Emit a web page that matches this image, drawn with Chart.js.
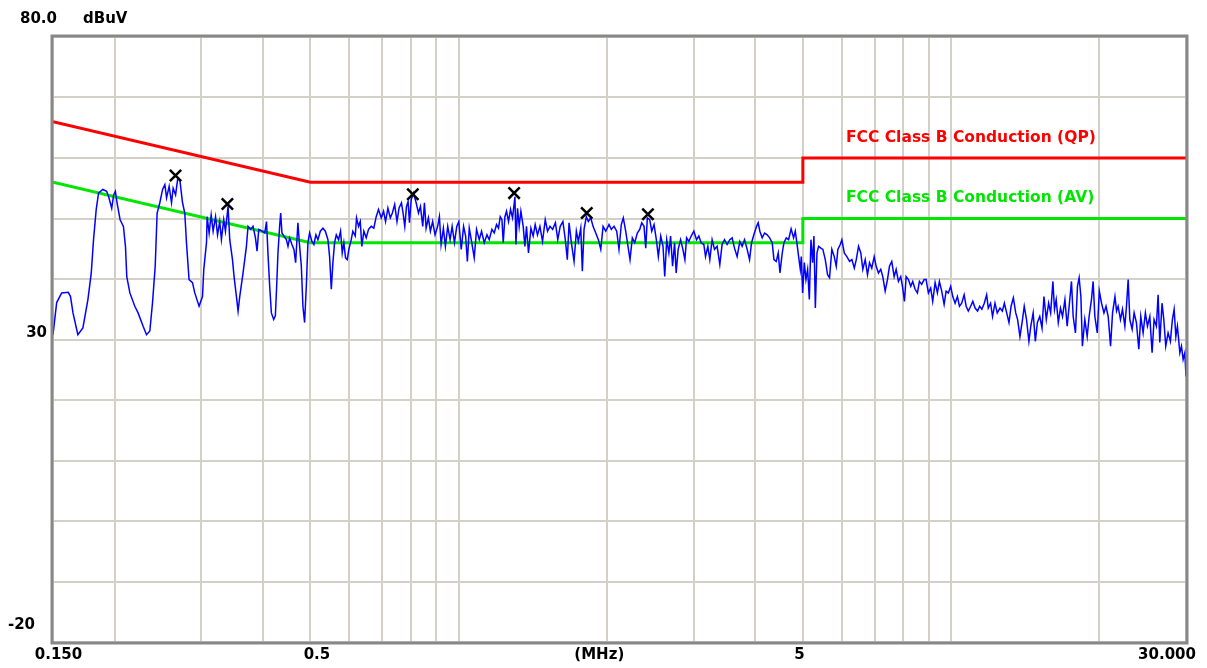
<!DOCTYPE html>
<html>
<head>
<meta charset="utf-8">
<title>Conducted emission scan</title>
<script src="https://cdn.jsdelivr.net/npm/chart.js"></script>
<style>
  html, body { margin: 0; padding: 0; background: #fff; }
  canvas { display: block; }
</style>
</head>
<body>
<canvas id="emi-chart" width="1207" height="668"></canvas>
<script>
// measured trace (MHz / dBuV)
const traceFreq = [
  0.150, 0.1526, 0.1562, 0.1611, 0.1628, 0.1647, 0.1685, 0.1725, 0.1766, 0.1794,
  0.1813, 0.1836, 0.1856, 0.1893, 0.1928, 0.1946, 0.1974, 0.1992, 0.2008, 0.2024,
  0.2053, 0.2085, 0.2105, 0.2118, 0.2149, 0.2199, 0.2233, 0.2286, 0.2323, 0.2359,
  0.2389, 0.2419, 0.2441, 0.2472, 0.2504, 0.2531, 0.2551, 0.2582, 0.2611, 0.2631,
  0.2661, 0.2686, 0.2714, 0.2749, 0.2778, 0.2800, 0.2834, 0.2880, 0.2911, 0.2970,
  0.3018, 0.3036, 0.3075, 0.3084, 0.3113, 0.3143, 0.3172, 0.3208, 0.3238, 0.3271,
  0.3297, 0.3333, 0.3360, 0.3401, 0.3428, 0.3472, 0.3498, 0.3537, 0.3564, 0.3592,
  0.3648, 0.3706, 0.3734, 0.3781, 0.3822, 0.3866, 0.3895, 0.3926, 0.3987, 0.4038,
  0.4071, 0.4102, 0.4132, 0.4165, 0.4210, 0.4243, 0.4269, 0.4295, 0.4329, 0.4350,
  0.4376, 0.4417, 0.4467, 0.4501, 0.4536, 0.4585, 0.4628, 0.4665, 0.4715, 0.4753,
  0.4791, 0.4827, 0.4865, 0.4904, 0.4941, 0.4980, 0.5034, 0.5081, 0.5129, 0.5177,
  0.5236, 0.5300, 0.5360, 0.5426, 0.5468, 0.5512, 0.5553, 0.5597, 0.5642, 0.5702,
  0.5756, 0.5801, 0.5845, 0.5891, 0.5938, 0.5983, 0.6050, 0.6096, 0.6165, 0.6202,
  0.6261, 0.6311, 0.6358, 0.6418, 0.6490, 0.6560, 0.6643, 0.6724, 0.6800, 0.6874,
  0.6962, 0.7038, 0.7104, 0.7182, 0.7264, 0.7333, 0.7413, 0.7494, 0.7565, 0.7652,
  0.7710, 0.7772, 0.7834, 0.7893, 0.7944, 0.8008, 0.8095, 0.8197, 0.8286, 0.8363,
  0.8453, 0.8520, 0.8587, 0.8679, 0.8760, 0.8854, 0.8954, 0.9063, 0.9138, 0.9210,
  0.9310, 0.9398, 0.9500, 0.9607, 0.9698, 0.9804, 0.9911, 1.0005, 1.0120, 1.0232,
  1.0330, 1.0415, 1.0507, 1.0620, 1.0755, 1.0871, 1.1009, 1.1128, 1.1270, 1.1413,
  1.1535, 1.1682, 1.1808, 1.1936, 1.2048, 1.2145, 1.2242, 1.2316, 1.2414, 1.2507,
  1.2625, 1.2744, 1.2864, 1.3009, 1.3070, 1.3168, 1.3270, 1.3376, 1.3521, 1.3629,
  1.3731, 1.3860, 1.4016, 1.4168, 1.4301, 1.4456, 1.4620, 1.4800, 1.4990, 1.5153,
  1.5327, 1.5518, 1.5719, 1.5894, 1.6077, 1.6280, 1.6464, 1.6620, 1.6756, 1.6937,
  1.7151, 1.7337, 1.7500, 1.7698, 1.7830, 1.7972, 1.8166, 1.8337, 1.8545, 1.8746,
  1.8984, 1.9217, 1.9434, 1.9645, 1.9894, 2.0197, 2.0416, 2.0676, 2.0940, 2.1162,
  2.1392, 2.1593, 2.1837, 2.2074, 2.2282, 2.2524, 2.2778, 2.3057, 2.3318, 2.3537,
  2.3792, 2.3982, 2.4162, 2.4434, 2.4664, 2.4932, 2.5201, 2.5438, 2.5725, 2.6002,
  2.6209, 2.6455, 2.6725, 2.6937, 2.7189, 2.7444, 2.7650, 2.7910, 2.8226, 2.8532,
  2.8800, 2.9031, 2.9341, 2.9658, 3.0034, 3.0414, 3.0743, 3.1075, 3.1468, 3.1719,
  3.2062, 3.2363, 3.2712, 3.3080, 3.3485, 3.3911, 3.4277, 3.4664, 3.5087, 3.5533,
  3.5918, 3.6323, 3.6770, 3.7238, 3.7641, 3.8067, 3.8535, 3.8970, 3.9336, 3.9763,
  4.0270, 4.0575, 4.0897, 4.1342, 4.1809, 4.2324, 4.2803, 4.3329, 4.3677, 4.4150,
  4.4567, 4.4923, 4.5409, 4.5773, 4.6268, 4.678, 4.733, 4.788, 4.826, 4.862,
  4.902, 4.941, 4.964, 4.995, 5.035, 5.073, 5.113, 5.154, 5.193, 5.234,
  5.266, 5.301, 5.341, 5.382, 5.440, 5.491, 5.553, 5.613, 5.665, 5.726,
  5.791, 5.845, 5.889, 5.956, 6.001, 6.069, 6.143, 6.221, 6.289, 6.360,
  6.419, 6.487, 6.557, 6.618, 6.693, 6.765, 6.829, 6.902, 6.980, 7.045,
  7.121, 7.198, 7.266, 7.348, 7.427, 7.497, 7.578, 7.663, 7.735, 7.818,
  7.903, 7.977, 8.041, 8.105, 8.192, 8.281, 8.358, 8.452, 8.544, 8.624,
  8.717, 8.815, 8.898, 8.994, 9.091, 9.177, 9.281, 9.381, 9.469, 9.572,
  9.680, 9.771, 9.874, 9.981, 10.08, 10.19, 10.30, 10.40, 10.51, 10.63,
  10.73, 10.84, 10.96, 11.07, 11.19, 11.32, 11.43, 11.55, 11.68, 11.81,
  11.90, 12.03, 12.14, 12.28, 12.41, 12.57, 12.71, 12.83, 12.97, 13.11,
  13.24, 13.38, 13.53, 13.65, 13.80, 13.95, 14.08, 14.23, 14.39, 14.52,
  14.68, 14.83, 14.97, 15.14, 15.30, 15.44, 15.61, 15.78, 15.93, 16.10,
  16.22, 16.35, 16.51, 16.68, 16.84, 17.03, 17.21, 17.37, 17.56, 17.70,
  17.89, 18.06, 18.20, 18.35, 18.48, 18.69, 18.90, 19.07, 19.28, 19.43,
  19.59, 19.81, 20.00, 20.21, 20.44, 20.64, 20.85, 21.08, 21.28, 21.52,
  21.68, 21.84, 22.08, 22.29, 22.54, 22.71, 22.89, 23.07, 23.32, 23.54,
  23.79, 24.06, 24.28, 24.55, 24.81, 25.05, 25.33, 25.60, 25.84, 26.12,
  26.33, 26.54, 26.82, 27.04, 27.29, 27.59, 27.89, 28.15, 28.38, 28.61,
  28.82, 29.15, 29.37, 29.60, 29.84, 30.00
];
const traceLevel = [
  30.8, 36.1, 37.7, 37.8, 37.1, 34.4, 30.8, 31.9, 36.6, 41.0,
  46.5, 51.5, 54.2, 54.8, 54.5, 53.6, 51.7, 53.9, 54.5, 52.6,
  49.8, 48.7, 45.4, 40.4, 37.7, 35.5, 34.4, 32.2, 30.8, 31.4,
  36.1, 42.1, 50.9, 52.6, 54.8, 55.6, 53.4, 55.3, 52.6, 55.0,
  53.9, 56.4, 56.4, 52.6, 50.9, 46.0, 39.9, 39.4, 37.7, 35.5,
  37.1, 41.6, 46.0, 50.3, 47.6, 50.6, 47.9, 50.3, 47.3, 49.5,
  46.5, 49.8, 47.9, 52.0, 46.5, 43.2, 40.4, 37.1, 34.7, 37.1,
  41.0, 45.4, 48.7, 48.2, 48.7, 46.8, 44.6, 48.2, 47.9, 47.6,
  49.5, 43.7, 38.8, 34.4, 33.3, 33.9, 38.8, 44.3, 48.7, 50.9,
  47.6, 47.1, 46.5, 45.4, 46.8, 45.7, 44.9, 42.7, 49.3, 45.4,
  42.1, 35.5, 32.8, 38.8, 46.0, 47.6, 46.2, 45.7, 47.3, 46.5,
  47.9, 48.4, 47.9, 46.5, 43.7, 38.3, 42.7, 46.0, 47.3, 46.5,
  47.9, 44.3, 46.0, 43.5, 43.2, 44.9, 46.5, 47.9, 47.1, 50.1,
  48.7, 49.5, 45.4, 47.9, 46.8, 48.2, 48.7, 48.4, 50.3, 51.5,
  50.1, 51.2, 49.5, 51.7, 50.1, 50.9, 52.3, 49.5, 51.7, 52.6,
  50.9, 48.7, 52.0, 52.8, 49.3, 53.1, 54.2, 52.6, 50.9, 52.0,
  48.7, 52.6, 48.4, 50.1, 47.9, 49.5, 47.3, 48.7, 50.3, 45.7,
  48.4, 45.4, 48.7, 46.5, 48.7, 46.0, 48.7, 49.5, 44.9, 48.7,
  47.1, 42.9, 48.4, 46.2, 43.5, 48.2, 46.5, 47.9, 46.0, 47.3,
  46.5, 48.2, 47.6, 49.0, 48.4, 50.3, 49.8, 46.0, 50.3, 51.2,
  49.5, 51.5, 50.1, 53.6, 45.7, 51.7, 48.7, 51.2, 48.7, 45.4,
  48.7, 44.3, 48.4, 47.1, 49.0, 47.3, 48.7, 46.2, 49.8, 47.9,
  48.7, 48.2, 49.3, 46.5, 48.7, 49.5, 46.5, 43.2, 49.3, 46.0,
  42.9, 47.9, 46.2, 48.4, 41.3, 48.2, 50.3, 49.5, 50.1, 48.7,
  47.6, 46.5, 44.9, 48.7, 47.9, 49.0, 48.2, 48.7, 47.9, 44.9,
  49.0, 50.1, 47.9, 45.4, 43.2, 46.8, 46.0, 47.6, 48.2, 49.3,
  48.7, 45.1, 50.1, 49.8, 47.9, 49.0, 46.5, 43.7, 47.1, 45.4,
  40.4, 46.5, 44.3, 47.1, 42.1, 46.0, 41.0, 44.9, 46.5, 44.9,
  43.2, 46.8, 46.2, 47.1, 47.9, 46.5, 47.1, 46.0, 45.7, 43.7,
  45.4, 43.2, 46.5, 44.9, 45.4, 42.4, 45.7, 46.5, 45.7, 46.5,
  46.8, 45.1, 43.7, 46.2, 45.4, 46.5, 44.9, 43.2, 46.0, 47.3,
  48.7, 49.3, 47.9, 46.8, 47.6, 47.3, 46.8, 46.0, 43.2, 42.9,
  44.3, 41.0, 44.3, 46.0, 46.8, 46.5, 48.3, 46.8, 47.9, 46.0,
  43.7, 41.6, 43.7, 37.7, 42.7, 39.9, 41.6, 36.6, 46.5, 42.7,
  47.1, 35.2, 44.3, 45.4, 45.1, 44.9, 43.2, 40.7, 40.2, 44.9,
  43.7, 42.1, 44.9, 45.7, 46.5, 44.3, 43.7, 42.9, 43.2, 41.8,
  43.2, 45.4, 44.3, 41.6, 43.2, 40.7, 42.7, 41.8, 43.7, 42.1,
  41.0, 41.6, 40.4, 38.0, 39.9, 42.1, 42.9, 40.4, 41.6, 39.6,
  40.4, 38.5, 36.3, 40.4, 39.9, 38.8, 39.6, 38.3, 37.7, 39.6,
  39.1, 39.9, 39.9, 37.7, 38.5, 36.3, 39.4, 37.7, 39.6, 38.0,
  35.8, 38.0, 37.7, 38.8, 37.1, 36.0, 37.1, 35.5, 36.0, 37.4,
  35.5, 34.7, 35.5, 36.3, 35.2, 34.7, 35.5, 35.0, 36.0, 37.4,
  35.2, 36.0, 33.8, 36.0, 34.4, 35.2, 34.7, 36.0, 34.4, 32.8,
  35.5, 36.9, 34.4, 33.3, 30.5, 33.0, 35.5, 33.3, 29.7, 32.2,
  34.4, 29.7, 32.8, 33.8, 31.9, 37.1, 33.3, 36.0, 34.4, 39.6,
  35.0, 36.6, 32.8, 35.2, 33.8, 36.6, 32.2, 35.5, 39.6, 33.8,
  31.1, 38.8, 40.2, 37.1, 28.9, 33.3, 30.5, 33.8, 36.6, 39.6,
  33.8, 31.1, 38.0, 36.0, 34.4, 35.5, 33.8, 28.9, 34.4, 37.1,
  34.7, 35.5, 33.3, 35.0, 32.2, 35.5, 39.9, 33.3, 31.7, 34.4,
  32.8, 28.4, 33.8, 31.1, 34.4, 32.2, 33.8, 27.8, 33.3, 32.2,
  37.4, 29.5, 36.0, 33.3, 28.9, 31.1, 29.7, 33.3, 35.0, 30.5,
  32.2, 27.8, 28.9, 26.7, 27.8, 23.9
];

// limit lines
const qpFreq = [0.15, 0.5, 5, 5, 30];
const qpLevel = [66, 56, 56, 60, 60];
const avFreq = [0.15, 0.5, 5, 5, 30];
const avLevel = [56, 46, 46, 50, 50];
const qpName = 'FCC Class B Conduction (QP)';
const avName = 'FCC Class B Conduction (AV)';

// marked peaks
const peakFreq = [0.266, 0.339, 0.807, 1.296, 1.820, 2.423];
const peakLevel = [57.1, 52.4, 54.0, 54.2, 50.9, 50.7];

// axes
const xGridTicks = [0.15, 0.2, 0.3, 0.4, 0.5, 0.6, 0.7, 0.8, 0.9, 1, 2, 3, 4, 5, 6, 7, 8, 9, 10, 20, 30];
const xLabelValues = [0.15, 0.5, 1.93, 5, 30];
const xLabelTexts = ['0.150', '0.5', '(MHz)', '5', '30.000'];
const yLabelValues = [80, 30, -20];
const yLabelTexts = ['80.0', '30', '-20'];
const yUnit = 'dBuV';

function toPoints(xs, ys) {
  return xs.map((v, i) => ({ x: v, y: ys[i] }));
}

const labelFont = 'bold 15px "DejaVu Sans"';

// frame + all the texts drawn on top
const emiTexts = {
  id: 'emiTexts',
  afterDraw(chart) {
    const { ctx, chartArea: a, scales } = chart;
    const xs = scales.x, ys = scales.y;
    ctx.save();
    ctx.strokeStyle = '#888888';
    ctx.lineWidth = 3;
    ctx.strokeRect(a.left - 1, a.top - 1, a.right - a.left + 2, a.bottom - a.top + 2);

    ctx.font = labelFont;
    ctx.fillStyle = '#000';
    ctx.textBaseline = 'middle';

    // y side
    const yShift = [-17.5, -6, -17];
    const yRight = [57, 47, 35];
    ctx.textAlign = 'right';
    yLabelValues.forEach((v, i) => {
      ctx.fillText(yLabelTexts[i], yRight[i], ys.getPixelForValue(v) + yShift[i]);
    });
    ctx.textAlign = 'left';
    ctx.fillText(yUnit, 83, ys.getPixelForValue(80) - 17.5);

    // x side
    const xShift = [5.5, 6.5, 0, -3.5, -19];
    ctx.textAlign = 'center';
    xLabelValues.forEach((v, i) => {
      ctx.fillText(xLabelTexts[i], xs.getPixelForValue(v) + xShift[i], a.bottom + 13);
    });

    // limit names
    ctx.font = 'bold 15.5px "DejaVu Sans"';
    ctx.textAlign = 'left';
    ctx.fillStyle = '#ff0000';
    ctx.fillText(qpName, 846, ys.getPixelForValue(qpLevel[4]) - 20);
    ctx.fillStyle = '#00e600';
    ctx.fillText(avName, 846, ys.getPixelForValue(avLevel[4]) - 21);
    ctx.restore();
  }
};

const chartCtx = document.getElementById('emi-chart').getContext('2d');
const emiChart = new Chart(chartCtx, {
  type: 'line',
  data: {
    datasets: [
      {
        label: 'Peaks',
        data: toPoints(peakFreq, peakLevel),
        showLine: false,
        pointStyle: 'crossRot',
        pointRadius: 8,
        pointBorderWidth: 2.5,
        pointBorderColor: '#000',
        pointBackgroundColor: '#000',
      },
      {
        label: 'Level',
        data: toPoints(traceFreq, traceLevel),
        borderColor: '#0000ff',
        borderWidth: 1.5,
        pointRadius: 0,
        tension: 0,
      },
      {
        label: qpName,
        data: toPoints(qpFreq, qpLevel),
        borderColor: '#ff0000',
        borderWidth: 3,
        pointRadius: 0,
      },
      {
        label: avName,
        data: toPoints(avFreq, avLevel),
        borderColor: '#00e600',
        borderWidth: 3,
        pointRadius: 0,
      },
    ],
  },
  options: {
    responsive: false,
    animation: false,
    devicePixelRatio: 1,
    layout: {
      padding: { left: 53, top: 37, right: 21, bottom: 26 },
    },
    plugins: {
      legend: { display: false },
      tooltip: { enabled: false },
    },
    scales: {
      x: {
        type: 'logarithmic',
        min: 0.15,
        max: 30,
        afterBuildTicks: (scale) => {
          scale.ticks = xGridTicks.map(v => ({ value: v }));
        },
        ticks: { display: false },
        grid: { color: '#d4d0c8', lineWidth: 2, drawTicks: false },
        border: { display: false },
      },
      y: {
        min: -20,
        max: 80,
        ticks: { display: false, stepSize: 10 },
        grid: { color: '#d4d0c8', lineWidth: 2, drawTicks: false },
        border: { display: false },
      },
    },
  },
  plugins: [emiTexts],
});
</script>
</body>
</html>
